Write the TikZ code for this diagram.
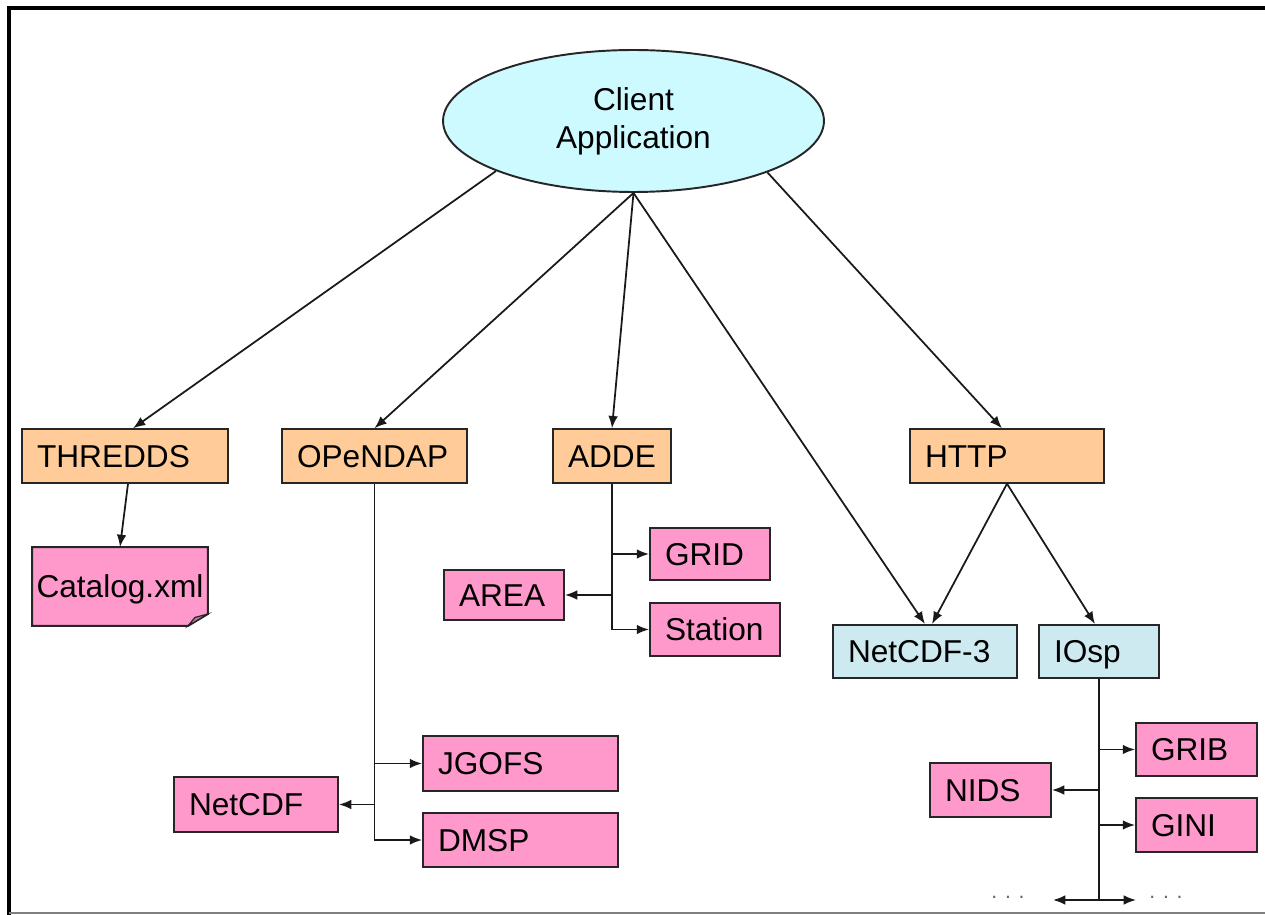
\documentclass[tikz,border=0pt]{standalone}
\usepackage{fontspec}
\setmainfont{Liberation Sans}
\usetikzlibrary{arrows.meta,shapes.geometric,backgrounds,calc}
\definecolor{peach}{RGB}{255,204,153}
\definecolor{pinkbox}{RGB}{255,153,204}
\definecolor{lblue}{RGB}{204,234,240}
\definecolor{ellcol}{RGB}{204,250,255}
\definecolor{foldcol}{RGB}{190,120,160}
\begin{document}
\begin{tikzpicture}[x=0.02cm,y=-0.02cm,
  box/.style={draw=black!85, line width=1.1pt, rectangle, minimum height=1.07cm,
    inner xsep=0.3cm, inner ysep=0pt, align=left, text height=12.9pt, text depth=0pt,
    font=\fontsize{18}{21.5}\selectfont},
  proto/.style={box, fill=peach},
  leaf/.style={box, fill=pinkbox},
  lib/.style={box, fill=lblue},
  arr/.style={draw=black!90, line width=1pt, -{Latex[length=7pt,width=5.5pt]}},
  dots/.style={text=black!60, font=\fontsize{12}{14}\selectfont, inner sep=0pt}]
\useasboundingbox (0,0) rectangle (1265,915);
% frame
\draw[line width=0.08cm] (9,915) -- (9,8) -- (1265,8);
\draw[gray, line width=0.04cm] (9,913) -- (1265,913);

% nodes
\node[ellipse, draw=black!85, line width=1.1pt, fill=ellcol, minimum width=7.62cm,
  minimum height=2.84cm, inner sep=0pt, align=center,
  font=\fontsize{18}{21.5}\selectfont] (ca) at (633.5,121) {Client\\Application};

\node[proto, text width=3.52cm] (thr) at (125,456) {THREDDS};
\node[proto, text width=3.10cm] (opd) at (374.5,456) {OPeNDAP};
\node[proto, text width=1.76cm] (adde) at (612,456) {ADDE};
\node[proto, text width=3.28cm] (http) at (1007,456) {HTTP};

\node[box, draw=none, minimum height=1.54cm, inner xsep=0pt, align=center,
  text width=3.48cm] (cat) at (120,586.5) {Catalog.xml};

\node[leaf, text width=1.80cm, minimum height=1.0cm] (area) at (504,595) {AREA};
\node[leaf, text width=1.80cm, minimum height=1.04cm] (grid) at (710,554) {GRID};
\node[leaf, text width=2.00cm, minimum height=1.06cm] (stat) at (715,629.5) {Station};

\node[lib, text width=3.08cm, minimum height=1.06cm] (nc3) at (925,651.5) {NetCDF-3};
\node[lib, text width=1.80cm, minimum height=1.06cm] (iosp) at (1099,651.5) {IOsp};

\node[leaf, text width=3.30cm, minimum height=1.1cm] (jg) at (520.5,763.5) {JGOFS};
\node[leaf, text width=3.30cm] (dmsp) at (520.5,840) {DMSP};
\node[leaf, text width=2.68cm, minimum height=1.1cm] (ncdf) at (256,804.5) {NetCDF};

\node[leaf, text width=1.82cm, minimum height=1.06cm] (grib) at (1196.5,749.5) {GRIB};
\node[leaf, text width=1.82cm] (gini) at (1196.5,825) {GINI};
\node[leaf, text width=1.82cm] (nids) at (990.5,790) {NIDS};

\node[dots] (dl) at (1008,897) {. . .};
\node[dots] (dr) at (1166,897) {. . .};
\coordinate (il) at (1053,900);
\coordinate (ir) at (1136,900);

% note shape for Catalog.xml
\begin{pgfonlayer}{background}
\draw[draw=black!85, line width=1.1pt, fill=pinkbox] (cat.north west) -- (cat.north east)
  -- ([yshift=0.24cm]cat.south east) -- ([xshift=-0.4cm]cat.south east)
  -- (cat.south west) -- cycle;
\draw[draw=black!85, line width=0.7pt, fill=foldcol] ([yshift=0.24cm]cat.south east)
  -- ([xshift=-0.4cm]cat.south east) -- ([xshift=-0.26cm,yshift=0.17cm]cat.south east) -- cycle;
\end{pgfonlayer}

% connectors from client
\draw[arr] (ca.200) -- ([xshift=0.16cm]thr.north);
\draw[arr] (ca.south) -- (opd.north);
\draw[arr] (ca.south) -- (adde.north);
\draw[arr] (ca.south) -- (nc3.north);
\draw[arr] (ca.-21) -- ([xshift=-0.1cm]http.north);
\draw[arr] ([xshift=0.06cm]thr.south) -- (cat.north);
\draw[arr] (http.south) -- ([xshift=0.14cm]nc3.north);
\draw[arr] (http.south) -- ([xshift=-0.08cm]iosp.north);

% OPeNDAP tree
\draw[arr] (opd.south) |- (dmsp.west);
\draw[arr] (opd.south |- jg.west) -- (jg.west);
\draw[arr] (opd.south |- ncdf.east) -- (ncdf.east);

% ADDE tree
\draw[arr] (adde.south) |- (stat.west);
\draw[arr] (adde.south |- grid.west) -- (grid.west);
\draw[arr] (adde.south |- area.east) -- (area.east);

% IOsp tree
\draw[arr] (iosp.south) |- (ir);
\draw[arr] (iosp.south |- il) -- (il);
\draw[arr] (iosp.south |- grib.west) -- (grib.west);
\draw[arr] (iosp.south |- nids.east) -- (nids.east);
\draw[arr] (iosp.south |- gini.west) -- (gini.west);
\end{tikzpicture}
\end{document}
